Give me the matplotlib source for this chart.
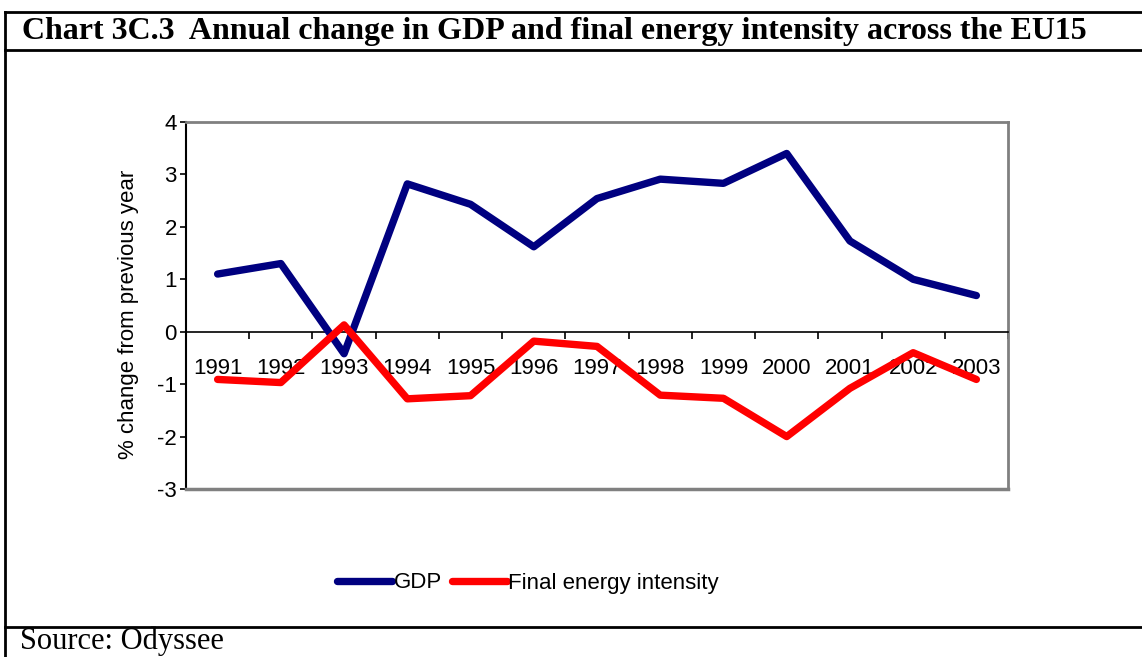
import matplotlib.pyplot as plt
from matplotlib.lines import Line2D

years = ["1991", "1992", "1993", "1994", "1995", "1996", "1997",
         "1998", "1999", "2000", "2001", "2002", "2003"]
gdp = [1.1, 1.3, -0.42, 2.82, 2.43, 1.62, 2.54, 2.91, 2.83, 3.4, 1.73, 1.0, 0.69]
energy_intensity = [-0.91, -0.97, 0.13, -1.28, -1.22, -0.18, -0.28, -1.21, -1.27,
                    -2.0, -1.08, -0.4, -0.91]
yticks = [-3, -2, -1, 0, 1, 2, 3, 4]

navy = "#000080"
red = "#ff0000"
grey = "#808080"

fig = plt.figure(figsize=(11.42, 6.57), dpi=100)
ax = fig.add_axes([186 / 1142, 1 - 489 / 657, 822 / 1142, 367 / 657])

x = list(range(len(years)))
ax.plot(x, gdp, color=navy, lw=5.3, solid_capstyle="round", label="GDP", zorder=3)
ax.plot(x, energy_intensity, color=red, lw=5.3, solid_capstyle="round",
        label="Final energy intensity", zorder=3)

ax.set_xlim(-0.5, len(years) - 0.5)
ax.set_ylim(-3, 4)
ax.set_yticks(yticks)
ax.set_yticklabels([str(v) for v in yticks], family="Liberation Sans", fontsize=16)

# category axis sits on the zero line
ax.spines["bottom"].set_position(("data", 0))
ax.spines["bottom"].set_color("black")
ax.spines["bottom"].set_linewidth(1.2)
ax.set_xticks(x)
ax.set_xticklabels(years, family="Liberation Sans", fontsize=16)
ax.set_xticks([i + 0.5 for i in x], minor=True)
ax.tick_params(axis="x", which="major", length=0, pad=19)
ax.tick_params(axis="x", which="minor", length=5, width=1.2, direction="out")
ax.tick_params(axis="y", length=4.5, width=1.2, pad=2)

ax.spines["left"].set_color("black")
ax.spines["left"].set_linewidth(1.5)
for s in ["top", "right"]:
    ax.spines[s].set_color(grey)
    ax.spines[s].set_linewidth(2)
ax.axhline(-3, color=grey, lw=2.5, clip_on=False, zorder=4)

ax.set_ylabel("% change from previous year", family="Liberation Sans", fontsize=16)
ax.yaxis.set_label_coords(-0.057, 0.477)

fig.legend(loc="center", bbox_to_anchor=(528 / 1142, 1 - 583 / 657), ncol=2,
           frameon=False, handlelength=2.5, handletextpad=0.05, columnspacing=0.45,
           prop={"family": "Liberation Sans", "size": 16})

# frame around the chart block
for y in [1 - 11.5 / 657, 1 - 50 / 657, 1 - 627 / 657]:
    fig.add_artist(Line2D([4.5 / 1142, 1], [y, y], color="black", lw=2))
fig.add_artist(Line2D([4.5 / 1142, 4.5 / 1142], [0, 1 - 11.5 / 657], color="black", lw=2))

fig.text(22 / 1142, 1 - 31 / 657,
         "Chart 3C.3  Annual change in GDP and final energy intensity across the EU15",
         family="Liberation Serif", weight="bold", fontsize=23, va="center", ha="left")
fig.text(20 / 1142, 1 - 641 / 657, "Source: Odyssee", family="Liberation Serif",
         fontsize=22, va="center", ha="left")

fig.savefig("out.png", dpi=100)
